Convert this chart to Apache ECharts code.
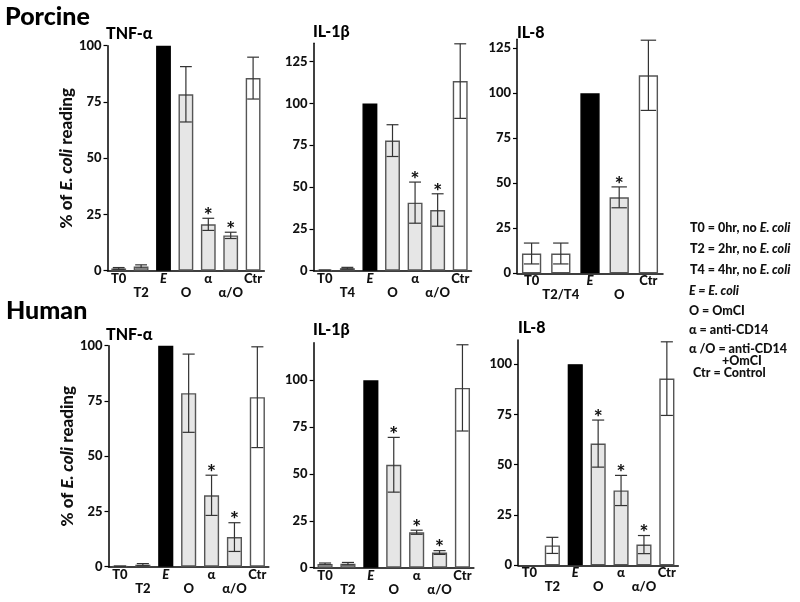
<!DOCTYPE html>
<html><head><meta charset="utf-8">
<script src="https://cdn.jsdelivr.net/npm/echarts@6/dist/echarts.min.js"></script>
<style>html,body{margin:0;padding:0;background:#fff}#c{width:800px;height:602px}</style>
</head><body><div id="c"></div>
<script>
// ---------- DATA ----------
const pTNF_cats = ['T0','T2','E','O','α','α/O','Ctr'];
const pTNF_vals = [1.0, 1.9, 100, 78.4, 20.6, 15.7, 85.6];
const pTNF_err  = [0.4, 0.7, 0, 12.3, 2.7, 1.4, 9.3];
const pTNF_sig  = [0, 0, 0, 0, 1, 1, 0];

const pIL1_cats = ['T0','T4','E','O','α','α/O','Ctr'];
const pIL1_vals = [0.3, 1.5, 100, 77.8, 40.7, 36.3, 113.4];
const pIL1_err  = [0.1, 0.5, 0, 9.5, 12.3, 9.7, 22.3];
const pIL1_sig  = [0, 0, 0, 0, 1, 1, 0];

const pIL8_cats = ['T0','T2/T4','E','O','Ctr'];
const pIL8_vals = [11.0, 11.0, 100, 42.2, 110.0];
const pIL8_err  = [5.8, 5.8, 0, 5.8, 19.5];
const pIL8_sig  = [0, 0, 0, 1, 0];

const hTNF_cats = ['T0','T2','E','O','α','α/O','Ctr'];
const hTNF_vals = [0.2, 0.9, 100, 78.5, 32.3, 13.4, 76.7];
const hTNF_err  = [0.1, 0.5, 0, 17.7, 9.1, 6.5, 22.8];
const hTNF_sig  = [0, 0, 0, 0, 1, 1, 0];

const hIL1_cats = ['T0','T2','E','O','α','α/O','Ctr'];
const hIL1_vals = [2.0, 2.1, 100, 54.9, 18.9, 8.1, 95.9];
const hIL1_err  = [0.5, 0.7, 0, 14.6, 1.1, 1.0, 23.0];
const hIL1_sig  = [0, 0, 0, 1, 1, 1, 0];

const hIL8_cats = ['T0','T2','E','O','α','α/O','Ctr'];
const hIL8_vals = [0, 9.9, 100, 60.5, 37.2, 10.3, 92.8];
const hIL8_err  = [0, 4.0, 0, 11.7, 7.5, 4.5, 18.3];
const hIL8_sig  = [0, 0, 0, 1, 1, 1, 0];

const yTicks = [0, 25, 50, 75, 100, 125];
const panelTitles = ['TNF-α','IL-1β','IL-8','TNF-α','IL-1β','IL-8'];
const groupTitles = ['Porcine','Human'];
const legendLines = [
  '{b|T0 = 0hr, no }{i|E. coli}',
  '{b|T2 = 2hr, no }{i|E. coli}',
  '{b|T4 = 4hr, no }{i|E. coli}',
  '{i|E = E. coli}',
  '{b|O = OmCI}',
  '{b|α = anti-CD14}',
  '{b|α /O = anti-CD14}',
  '{b|+OmCI}',
  '{b|Ctr = Control}'
];

// ---------- LAYOUT / STYLE ----------
const FONT = 'Lato';
const W = 900;
const BAR_RATIO = 0.66;
const panels = [
  {cats:pTNF_cats, vals:pTNF_vals, err:pTNF_err, sig:pTNF_sig, max:100, grid:{left:107.5, top:45.7, width:156.8, height:225}, yName:true, title:[106,34]},
  {cats:pIL1_cats, vals:pIL1_vals, err:pIL1_err, sig:pIL1_sig, max:136, grid:{left:313.5, top:43.3, width:158, height:227.4}, title:[313,31.5]},
  {cats:pIL8_cats, vals:pIL8_vals, err:pIL8_err, sig:pIL8_sig, max:130, grid:{left:517, top:39.3, width:146, height:234}, title:[517,33]},
  {cats:hTNF_cats, vals:hTNF_vals, err:hTNF_err, sig:hTNF_sig, max:100, grid:{left:108.5, top:345.7, width:160.3, height:221}, yName:true, title:[106,335]},
  {cats:hIL1_cats, vals:hIL1_vals, err:hIL1_err, sig:hIL1_sig, max:120, grid:{left:313.6, top:342.7, width:160.3, height:225}, title:[313,329.5]},
  {cats:hIL8_cats, vals:hIL8_vals, err:hIL8_err, sig:hIL8_sig, max:112, grid:{left:518, top:340, width:160.3, height:225.3}, title:[518,327.5]}
];

function fillFor(cat) {
  if (cat === 'E') return '#000000';
  if (cat === 'O' || cat === 'α' || cat === 'α/O') return '#e6e6e6';
  return '#ffffff';
}
function borderFor(cat) { return cat === 'E' ? '#000000' : '#555555'; }

const grids = [], xAxes = [], yAxes = [], series = [];
panels.forEach((p, i) => {
  grids.push(Object.assign({containLabel:false}, p.grid));
  xAxes.push({
    gridIndex:i, type:'category', data:p.cats,
    axisTick:{show:false},
    axisLine:{lineStyle:{color:'#000', width:1.5}},
    axisLabel:{
      interval:0, margin:1, lineHeight:14,
      formatter:(v, idx) => {
        const t = (v === 'E') ? '{i|E}' : '{b|' + v + '}';
        return (idx % 2 === 1) ? '{b|}\n' + t : t;
      },
      rich:{
        b:{fontFamily:FONT, fontWeight:W, fontSize:13, color:'#111', lineHeight:14},
        i:{fontFamily:FONT, fontWeight:W, fontStyle:'italic', fontSize:13, color:'#111', lineHeight:14}
      }
    }
  });
  const ticks = yTicks.filter(t => t <= p.max);
  const ya = {
    gridIndex:i, type:'value', min:0, max:p.max, interval:25,
    axisLine:{show:true, lineStyle:{color:'#000', width:1.5}},
    axisTick:{show:true, length:4, lineStyle:{color:'#000', width:1.2}, customValues:ticks},
    axisLabel:{customValues:ticks, fontFamily:FONT, fontWeight:W, fontSize:13, color:'#111', margin:6},
    splitLine:{show:false}
  };
  if (p.yName) {
    Object.assign(ya, {
      name:'{n|% of }{i|E. coli}{n| reading}', nameLocation:'middle', nameRotate:90, nameGap:30,
      nameTextStyle:{rich:{
        n:{fontFamily:FONT, fontWeight:W, fontSize:17, color:'#111'},
        i:{fontFamily:FONT, fontWeight:W, fontStyle:'italic', fontSize:17, color:'#111'}
      }}
    });
  }
  yAxes.push(ya);
  series.push({
    type:'bar', xAxisIndex:i, yAxisIndex:i, barWidth:(BAR_RATIO*100)+'%',
    data:p.vals.map((v, k) => ({value:v, itemStyle:{color:fillFor(p.cats[k]), borderColor:borderFor(p.cats[k]), borderWidth:v > 0 ? 1.4 : 0}})),
    silent:true, animation:false
  });
  series.push({
    type:'custom', xAxisIndex:i, yAxisIndex:i, z:5, animation:false, silent:true,
    data:p.vals.map((v, k) => [k, v, p.err[k], p.sig[k]]),
    encode:{x:0, y:1},
    renderItem:(params, api) => {
      const k = api.value(0), v = api.value(1), e = api.value(2), s = api.value(3);
      const band = api.size([1, 0])[0];
      const half = band * BAR_RATIO * 0.4;
      const top = api.coord([k, v + e]);
      const bot = api.coord([k, Math.max(0, v - e)]);
      const ch = [];
      const st = {stroke:'#333', lineWidth:1.2};
      if (e > 0) {
        ch.push({type:'line', shape:{x1:top[0], y1:top[1], x2:bot[0], y2:bot[1]}, style:st});
        ch.push({type:'line', shape:{x1:top[0]-half, y1:top[1], x2:top[0]+half, y2:top[1]}, style:st});
        ch.push({type:'line', shape:{x1:bot[0]-half, y1:bot[1], x2:bot[0]+half, y2:bot[1]}, style:st});
      }
      if (s) {
        ch.push({type:'text', style:{text:'*', x:top[0], y:top[1]-2, align:'center', verticalAlign:'middle',
          font:W + ' 21px ' + FONT, fill:'#111'}});
      }
      return {type:'group', children:ch};
    }
  });
});

const graphics = [];
graphics.push({type:'text', left:5, top:4, style:{text:groupTitles[0], font:W + ' 25px ' + FONT, fill:'#000'}});
graphics.push({type:'text', left:6, top:298, style:{text:groupTitles[1], font:W + ' 25px ' + FONT, fill:'#000'}});
panels.forEach((p, i) => {
  graphics.push({type:'text', x:p.title[0], y:p.title[1], style:{text:panelTitles[i], font:W + ' 16px ' + FONT, fill:'#000', verticalAlign:'middle'}});
});
const legY = [228, 249, 270, 291, 311, 330, 349, 361, 373];
const legX = [690, 690, 690, 689, 689, 689, 689, 722, 693];
legendLines.forEach((t, k) => {
  graphics.push({type:'text', x:legX[k], y:legY[k], style:{
    text:t, verticalAlign:'middle',
    rich:{
      b:{fontFamily:FONT, fontWeight:W, fontSize:12.5, fill:'#111'},
      i:{fontFamily:FONT, fontWeight:W, fontStyle:'italic', fontSize:12.5, fill:'#111'}
    }
  }});
});

const chart = echarts.init(document.getElementById('c'), null, {renderer:'canvas'});
chart.setOption({
  animation:false, backgroundColor:'#fff',
  grid:grids, xAxis:xAxes, yAxis:yAxes, series:series, graphic:graphics
});
</script></body></html>
